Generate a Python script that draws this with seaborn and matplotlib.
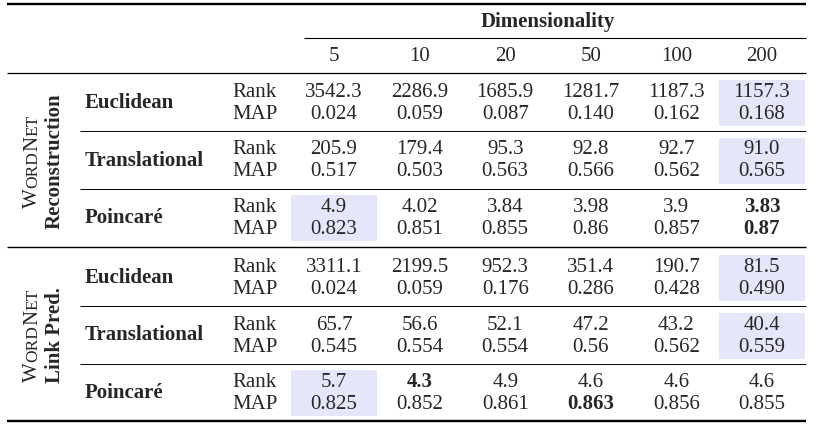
import matplotlib
matplotlib.use("Agg")
import matplotlib.pyplot as plt
import seaborn as sns
from matplotlib.patches import Rectangle

# 表格資料
dims = ["5", "10", "20", "50", "100", "200"]
models = ["Euclidean", "Translational", "Poincaré"]
metrics = ["Rank", "MAP"]

recon_rank = [
    ["3542.3", "2286.9", "1685.9", "1281.7", "1187.3", "1157.3"],
    ["205.9", "179.4", "95.3", "92.8", "92.7", "91.0"],
    ["4.9", "4.02", "3.84", "3.98", "3.9", "3.83"],
]
recon_map = [
    ["0.024", "0.059", "0.087", "0.140", "0.162", "0.168"],
    ["0.517", "0.503", "0.563", "0.566", "0.562", "0.565"],
    ["0.823", "0.851", "0.855", "0.86", "0.857", "0.87"],
]
link_rank = [
    ["3311.1", "2199.5", "952.3", "351.4", "190.7", "81.5"],
    ["65.7", "56.6", "52.1", "47.2", "43.2", "40.4"],
    ["5.7", "4.3", "4.9", "4.6", "4.6", "4.6"],
]
link_map = [
    ["0.024", "0.059", "0.176", "0.286", "0.428", "0.490"],
    ["0.545", "0.554", "0.554", "0.56", "0.562", "0.559"],
    ["0.825", "0.852", "0.861", "0.863", "0.856", "0.855"],
]

groups = ["Reconstruction", "Link Pred."]
group_values = [(recon_rank, recon_map), (link_rank, link_map)]

# 粗體: (group, model, metric, column)
bold_cells = [(0, 2, 0, 5), (0, 2, 1, 5), (1, 2, 0, 1), (1, 2, 1, 3)]
# 底色: (group, model, column)
shaded_cells = [(0, 0, 5), (0, 1, 5), (0, 2, 0), (1, 0, 5), (1, 1, 5), (1, 2, 0)]

sns.set_theme(style="white")
plt.rcParams["font.family"] = ["Liberation Serif", "DejaVu Serif"]

W, H = 817, 429
fig = plt.figure(figsize=(W / 100, H / 100), dpi=100)
ax = fig.add_axes([0, 0, 1, 1])
ax.set_xlim(0, W)
ax.set_ylim(H, 0)
ax.axis("off")

FS = 15
LEFT, RIGHT = 7, 806
col_x = [334 + 85.6 * i for i in range(len(dims))]
group_base = [97, 272]
block_step = 57.5
map_off = 22
shade = "#e6e6fa"

# 表頭
ax.hlines(4, LEFT, RIGHT, color="black", lw=1.7)
ax.text(548, 27, "Dimensionality", fontsize=FS, fontweight="bold",
        ha="center", va="baseline")
ax.hlines(38, 304, RIGHT, color="black", lw=0.8)
for x, d in zip(col_x, dims):
    ax.text(x, 61, d, fontsize=FS, ha="center", va="baseline")
ax.hlines(73, LEFT, RIGHT, color="black", lw=0.9)

renderer = fig.canvas.get_renderer()


def text_width(s, size):
    t = ax.text(0, 0, s, fontsize=size)
    w = t.get_window_extent(renderer).width
    t.remove()
    return w


def small_caps_vertical(x_base, y_center, pieces):
    widths = [text_width(s, sz) for s, sz in pieces]
    y = y_center + sum(widths) / 2
    for (s, sz), w in zip(pieces, widths):
        ax.text(x_base, y, s, fontsize=sz, rotation=90, rotation_mode="anchor",
                ha="left", va="baseline")
        y -= w


wordnet = [("W", FS), ("ORD", 12.5), ("N", FS), ("ET", 12.5)]
label_center = [161, 335]

for g, (rank_vals, map_vals) in enumerate(group_values):
    base = group_base[g]
    small_caps_vertical(37, label_center[g], wordnet)
    ax.text(60, label_center[g], groups[g], fontsize=FS, fontweight="bold",
            rotation=90, rotation_mode="anchor", ha="center", va="baseline")
    for m, model in enumerate(models):
        yb = base + block_step * m
        for gg, mm, c in shaded_cells:
            if gg == g and mm == m:
                x0 = col_x[c] - 43
                x1 = min(col_x[c] + 43, RIGHT - 1)
                ax.add_patch(Rectangle((x0, yb - 17), x1 - x0, 46,
                                       facecolor=shade, edgecolor="none", zorder=0))
        ax.text(85, yb + 11, model, fontsize=FS, fontweight="bold",
                ha="left", va="baseline")
        for k, (metric, vals) in enumerate(zip(metrics, (rank_vals, map_vals))):
            y = yb + map_off * k
            ax.text(232, y, metric, fontsize=FS, ha="left", va="baseline")
            for c, v in enumerate(vals[m]):
                bold = (g, m, k, c) in bold_cells
                ax.text(col_x[c], y, v, fontsize=FS, ha="center", va="baseline",
                        fontweight="bold" if bold else "normal")
        if m < len(models) - 1:
            ax.hlines(yb + 34, 80, RIGHT, color="black", lw=0.7)
    if g == 0:
        ax.hlines(247, LEFT, RIGHT, color="black", lw=1.0)

ax.hlines(421, LEFT, RIGHT, color="black", lw=1.7)

fig.savefig("out.png", dpi=100, facecolor="white")
